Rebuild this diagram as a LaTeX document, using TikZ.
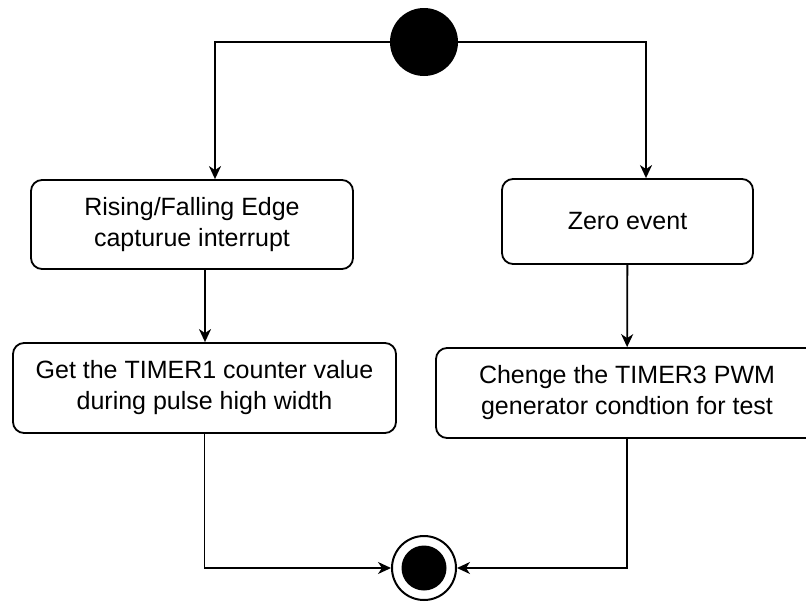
\documentclass[tikz,border=0pt]{standalone}
\usepackage{fontspec}
\setmainfont{Liberation Sans}
\usetikzlibrary{arrows.meta}
\begin{document}
\begin{tikzpicture}[x=1pt,y=-1pt,
  every node/.style={font=\fontsize{25}{31}\selectfont, text=black},
  activity/.style={draw, line width=1.8pt, rounded corners=11pt, align=center,
    inner sep=0pt},
  arr/.style={draw, line width=1.8pt,
    -{Stealth[length=13pt, width=12pt, inset=4pt]}},
  startnode/.style={circle, fill=black, minimum size=68pt, inner sep=0pt},
  endnode/.style={circle, draw, line width=2pt, minimum size=64pt, inner sep=0pt,
    path picture={\fill[black] (path picture bounding box.center) circle (22.5pt);}}
]
\clip (0,0) rectangle (806,603);

% initial and final states
\node[startnode] (start) at (424,42) {};
\node[endnode] (end) at (424,568) {};

% activities
\node[activity, minimum width=322pt, minimum height=89pt] (L1) at (192,224.5)
  {Rising/Falling Edge\\capturue interrupt};
\node[activity, minimum width=383pt, minimum height=90pt] (L2) at (204.5,388)
  {Get the TIMER1 counter value\\during pulse high width};
\node[activity, minimum width=251pt, minimum height=85pt] (R1) at (627.5,221.5)
  {Zero event};
\node[activity, minimum width=382pt, minimum height=90pt] (R2) at (627,393)
  {Chenge the TIMER3 PWM\\generator condtion for test};

% entry points of the branch connectors
\coordinate (xL) at (215,0);
\coordinate (xR) at (646,0);
\coordinate (xM) at (205,0);
\coordinate (aL) at (L1.north -| xL);
\coordinate (aR) at (R1.north -| xR);
\coordinate (bL) at (L1.south -| xM);
\coordinate (cL) at (L2.north -| xM);

% transitions
\draw[arr] (start) -| (aL);
\draw[arr] (start) -| (aR);
\draw[arr] (bL) -- (cL);
\draw[arr] (R1) -- (R2);
\draw[arr] (L2.south) |- (end);
\draw[arr] (R2.south) |- (end);
\end{tikzpicture}
\end{document}
